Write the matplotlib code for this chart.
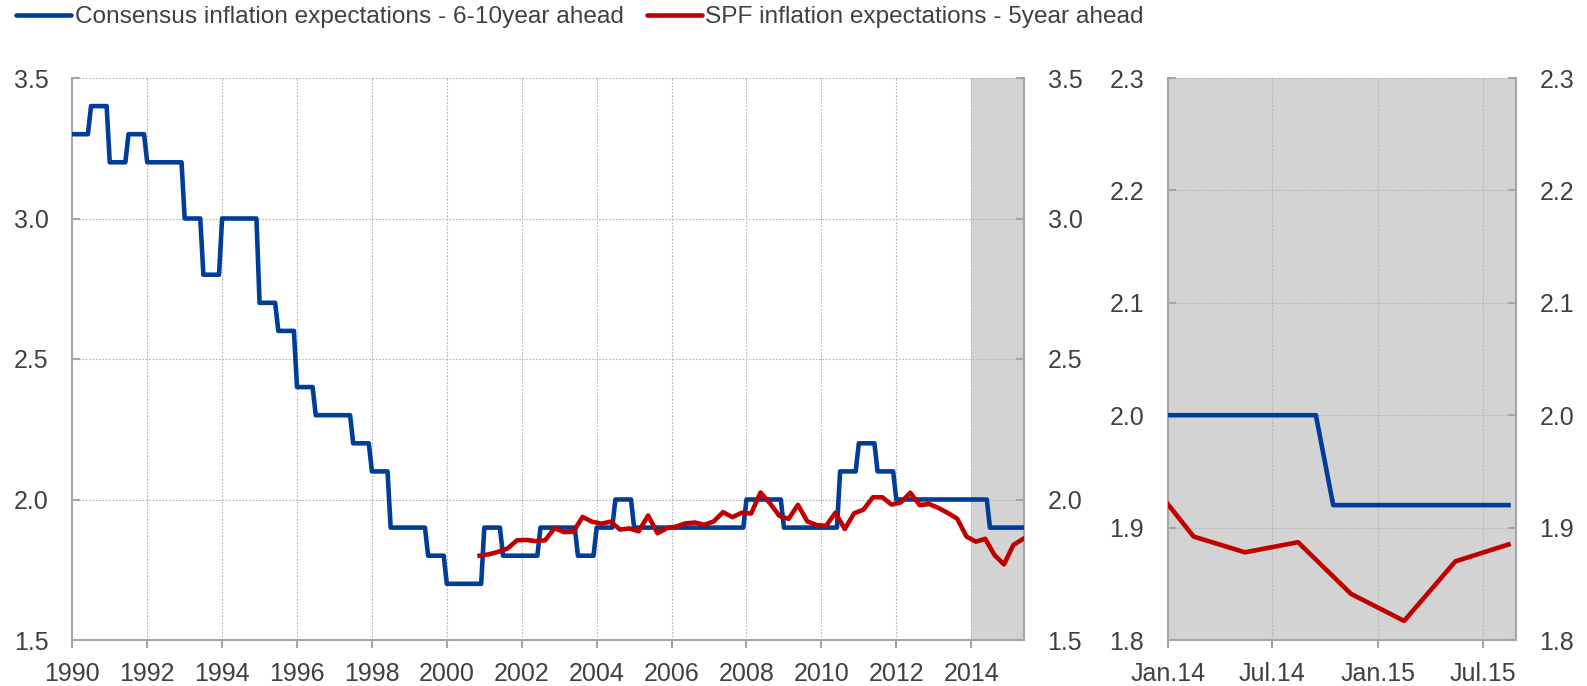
import numpy as np
import pandas as pd
import matplotlib
matplotlib.use("Agg")
import matplotlib.pyplot as plt
import matplotlib.dates as mdates

# Consensus 6-10 year ahead, one value per half year, 1990H1 .. 2015H1
consensus_start = 1990
consensus_halfyear = [3.3, 3.4, 3.2, 3.3, 3.2, 3.2, 3.0, 2.8, 3.0, 3.0,
                      2.7, 2.6, 2.4, 2.3, 2.3, 2.2, 2.1, 1.9, 1.9, 1.8,
                      1.7, 1.7, 1.9, 1.8, 1.8, 1.9, 1.9, 1.8, 1.9, 2.0,
                      1.9, 1.9, 1.9, 1.9, 1.9, 1.9, 2.0, 2.0, 1.9, 1.9,
                      1.9, 2.1, 2.2, 2.1, 2.0, 2.0, 2.0, 2.0, 2.0, 1.9,
                      1.9]

# SPF 5 year ahead, quarterly, 2000Q4 .. 2015Q2 (plotted mid quarter)
spf_start = 2000.875
spf_quarterly = [1.800, 1.805, 1.814, 1.826, 1.855, 1.856, 1.852, 1.855, 1.898, 1.884,
                 1.885, 1.938, 1.921, 1.914, 1.921, 1.893, 1.897, 1.887, 1.943, 1.880,
                 1.898, 1.904, 1.915, 1.918, 1.910, 1.922, 1.955, 1.937, 1.953, 1.950,
                 2.025, 1.987, 1.942, 1.931, 1.981, 1.922, 1.909, 1.906, 1.953, 1.895,
                 1.951, 1.964, 2.008, 2.008, 1.982, 1.990, 2.024, 1.980, 1.984, 1.970,
                 1.952, 1.932, 1.868, 1.850, 1.860, 1.802, 1.769, 1.838, 1.859]

# zoom panel, Jan.14 .. Aug.15
zoom_cons_dates = ["2014-01-01", "2014-09-15", "2014-10-15", "2015-08-15"]
zoom_cons_values = [2.0, 2.0, 1.92, 1.92]
zoom_spf_dates = ["2014-01-01", "2014-02-15", "2014-05-15", "2014-08-15",
                  "2014-11-15", "2015-02-15", "2015-05-15", "2015-08-15"]
zoom_spf_values = [1.921, 1.892, 1.878, 1.887, 1.841, 1.817, 1.870, 1.885]

zoom_ticks = ["2014-01-01", "2014-07-01", "2015-01-01", "2015-07-01"]
zoom_ticklabels = ["Jan.14", "Jul.14", "Jan.15", "Jul.15"]

label_cons = "Consensus inflation expectations - 6-10year ahead"
label_spf = "SPF inflation expectations - 5year ahead"

blue = "#003d99"
red = "#c00000"
shade = "#d3d3d3"
spine_col = "#a6a6a6"
text_col = "#404040"
fs = 18
lw = 3.3

plt.rcParams["font.family"] = ["Liberation Sans", "DejaVu Sans"]

W, H = 1587, 686
fig = plt.figure(figsize=(W / 100, H / 100), dpi=100)

ax1 = fig.add_axes([72.3 / W, 46 / H, (1024 - 72.3) / W, 562 / H])
ax2 = fig.add_axes([1167.7 / W, 46 / H, (1516 - 1167.7) / W, 562 / H])

# monthly steps for the consensus series
months = np.arange(len(consensus_halfyear) * 6)
x_cons = consensus_start + months / 12
y_cons = np.repeat(consensus_halfyear, 6)
x_spf = spf_start + 0.25 * np.arange(len(spf_quarterly))

ax1.axvspan(2014, 2015.41, color=shade, zorder=0.2, lw=0)
l1, = ax1.plot(x_cons, y_cons, color=blue, lw=lw, zorder=3)
l2, = ax1.plot(x_spf, spf_quarterly, color=red, lw=lw, zorder=4)
ax1.set_xlim(1990, 2015.41)
ax1.set_ylim(1.5, 3.5)
ax1.set_xticks(np.arange(1990, 2015, 2))
ax1.set_yticks([1.5, 2.0, 2.5, 3.0, 3.5])

d_cons = mdates.date2num(pd.to_datetime(zoom_cons_dates))
d_spf = mdates.date2num(pd.to_datetime(zoom_spf_dates))
ax2.set_facecolor(shade)
ax2.plot(d_cons, zoom_cons_values, color=blue, lw=lw, zorder=3)
ax2.plot(d_spf, zoom_spf_values, color=red, lw=lw, zorder=4)
ax2.set_xlim(mdates.date2num(pd.Timestamp("2014-01-01")), mdates.date2num(pd.Timestamp("2015-08-28")))
ax2.set_ylim(1.8, 2.3)
ax2.set_xticks(mdates.date2num(pd.to_datetime(zoom_ticks)))
ax2.set_xticklabels(zoom_ticklabels)
ax2.set_yticks([1.8, 1.9, 2.0, 2.1, 2.2, 2.3])

for ax in (ax1, ax2):
    ax.set_axisbelow(True)
    ax.grid(True, linestyle=(0, (1.5, 1.5)), color="#b4b4b4", lw=0.8)
    ax.spines["top"].set_visible(False)
    for s in ("left", "bottom", "right"):
        ax.spines[s].set_color(spine_col)
        ax.spines[s].set_linewidth(1.5)
    ax.yaxis.set_major_formatter(matplotlib.ticker.FormatStrFormatter("%.1f"))
    ax.tick_params(axis="y", direction="in", length=6, width=1.5, color=spine_col,
                   labelsize=fs, labelcolor=text_col, pad=17,
                   left=True, right=True, labelleft=True, labelright=True)
    ax.tick_params(axis="x", direction="out", length=6, width=1.5, color=spine_col,
                   labelsize=fs, labelcolor=text_col, pad=10)

leg = fig.legend([l1, l2], [label_cons, label_spf], loc="upper left",
                 bbox_to_anchor=(16 / W, 1 - 6 / H), ncol=2, frameon=False,
                 fontsize=17.6, handlelength=2.25, handletextpad=0.15, columnspacing=0.95,
                 borderpad=0, borderaxespad=0, labelcolor=text_col)
for h in leg.legend_handles:
    h.set_solid_capstyle("round")

fig.savefig("out.png", dpi=100)
